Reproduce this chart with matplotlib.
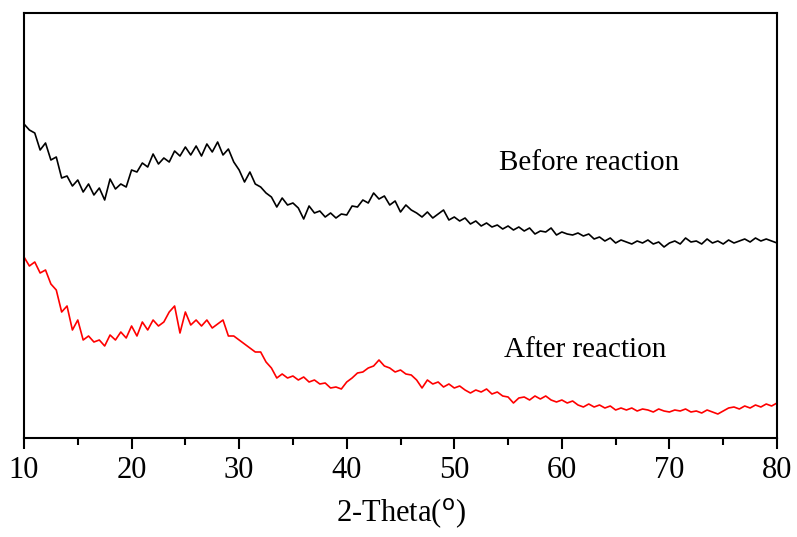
import numpy as np
import matplotlib
matplotlib.use("Agg")
import matplotlib.pyplot as plt
from matplotlib.ticker import MultipleLocator

# 2-theta grid (deg) and intensities (arbitrary units)
theta = np.arange(10, 80.01, 0.5)

before_px = [124, 130, 133, 150, 143, 160, 157, 178, 176, 186, 180, 192, 184, 195, 188, 200,
             179, 189, 184, 187, 170, 172, 163, 167, 154, 164, 158, 162, 151, 156, 147, 155,
             146, 156, 144, 152, 142, 155, 149, 162, 170, 182, 172, 184, 187, 193, 197, 207,
             198, 205, 203, 208, 219, 206, 213, 211, 217, 213, 218, 214, 215, 206, 207, 200,
             203, 193, 199, 196, 205, 201, 212, 205, 210, 213, 217, 212, 218, 214, 210, 220,
             217, 221, 218, 224, 221, 226, 223, 227, 225, 229, 226, 230, 227, 231, 228, 234,
             231, 232, 228, 235, 232, 234, 235, 233, 236, 234, 239, 237, 241, 238, 243, 240,
             242, 244, 241, 243, 240, 244, 242, 247, 243, 241, 244, 238, 242, 241, 244, 239,
             243, 241, 244, 240, 243, 241, 239, 242, 238, 241, 239, 241, 243]

after_px = [257, 266, 262, 273, 270, 284, 290, 312, 306, 330, 320, 340, 336, 342, 340, 346,
            335, 340, 332, 338, 326, 336, 322, 330, 320, 326, 322, 312, 306, 333, 312, 325,
            320, 326, 320, 328, 324, 320, 336, 336, 340, 344, 348, 352, 352, 362, 368, 378,
            374, 378, 376, 380, 377, 382, 380, 384, 383, 388, 387, 389, 382, 378, 373, 372,
            368, 366, 360, 366, 368, 372, 370, 374, 375, 380, 388, 380, 384, 382, 387, 384,
            388, 386, 390, 393, 390, 392, 389, 394, 392, 396, 397, 403, 398, 397, 400, 396,
            399, 396, 400, 402, 400, 403, 401, 405, 407, 404, 407, 405, 408, 406, 410, 408,
            410, 408, 411, 409, 410, 412, 409, 411, 412, 410, 411, 409, 412, 411, 413, 410,
            412, 414, 411, 408, 407, 409, 406, 408, 405, 407, 404, 406, 403]

# intensity measured upward from the x axis
before = 438 - np.array(before_px)
after = 438 - np.array(after_px)

plt.rcParams['font.family'] = ['Liberation Serif', 'DejaVu Serif']

fig = plt.figure(figsize=(7.97, 5.37), dpi=100)
ax = fig.add_axes([24/797, 1 - 438/537, 753/797, 425/537])

ax.plot(theta, before, color='black', lw=1.2)
ax.plot(theta, after, color='red', lw=1.2)

ax.set_xlim(10, 80)
ax.set_ylim(0, 425)
ax.xaxis.set_major_locator(MultipleLocator(10))
ax.xaxis.set_minor_locator(MultipleLocator(5))
ax.tick_params(axis='x', which='major', direction='out', length=8, width=1.5, labelsize=22, pad=5)
ax.tick_params(axis='x', which='minor', direction='out', length=5, width=1.5)
ax.set_yticks([])
for s in ax.spines.values():
    s.set_linewidth(1.5)

ax.text(0.75, (438 - 163) / 425, 'Before reaction', fontsize=21, ha='center', va='center',
        transform=ax.transAxes)
ax.text(0.745, (438 - 350) / 425, 'After reaction', fontsize=21, ha='center', va='center',
        transform=ax.transAxes)

ax.set_xlabel('2-Theta($^{\\rm o}$)', fontsize=22, labelpad=8)

fig.savefig('out.png', dpi=100)
